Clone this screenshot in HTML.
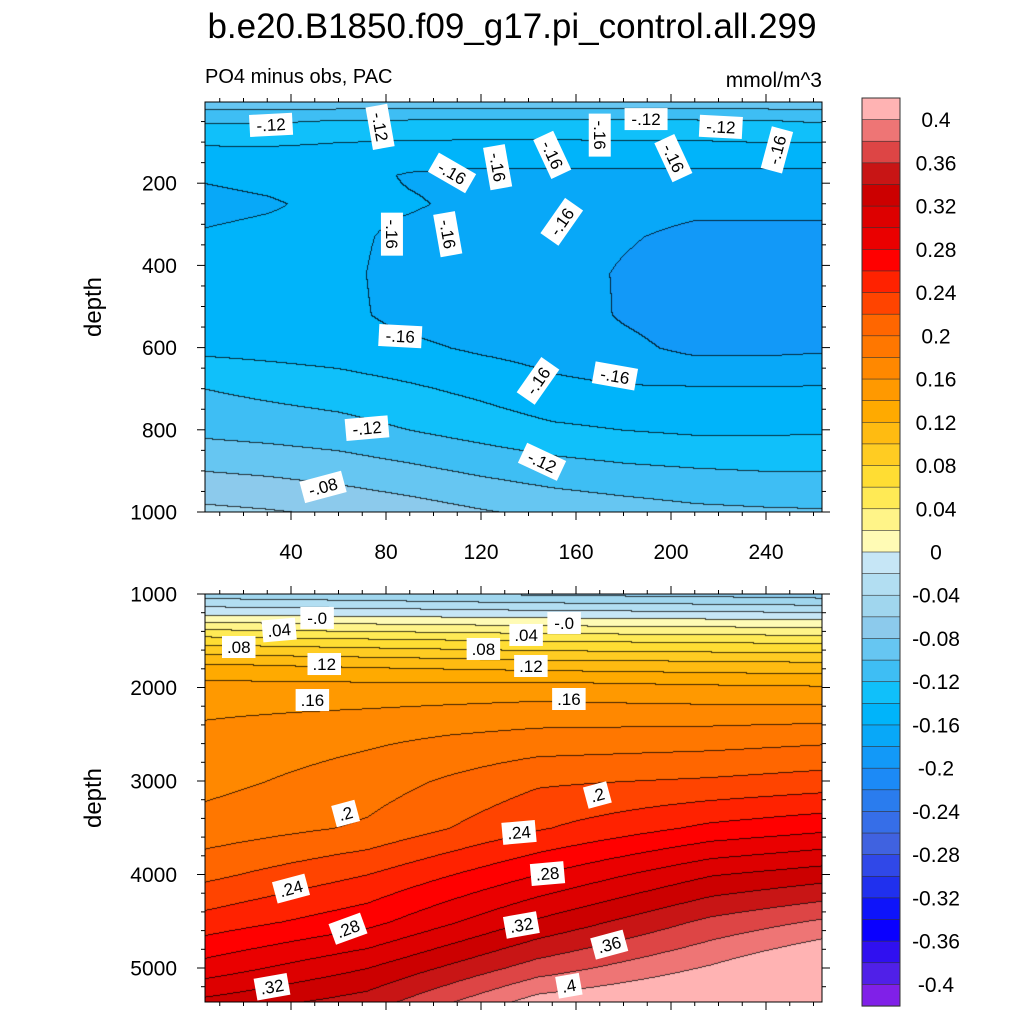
<!DOCTYPE html>
<html><head><meta charset="utf-8">
<style>
body{margin:0;background:#fff;width:1024px;height:1024px;overflow:hidden;font-family:"Liberation Sans",sans-serif;}
#root{position:relative;width:1024px;height:1024px;}
canvas{position:absolute;}
svg{position:absolute;left:0;top:0;}
</style></head>
<body>
<div id="root">
<canvas id="cTop" width="617" height="410" style="left:205px;top:102px"></canvas>
<canvas id="cBot" width="617" height="408" style="left:205px;top:594px"></canvas>
<svg id="ov" width="1024" height="1024"></svg>
</div>
<script>
// ---- data ----
const colors = ["#FFB3B3","#EE7575","#DD4545","#C81515","#CC0000","#DD0000","#EA0000","#FF0000","#FF2200","#FF4400","#FF6600","#FF7700","#FF8800","#FF9900","#FFAA00","#FFBB11","#FFCC22","#FFDD33","#FFEA55","#FFF488","#FFFBB5","#C6E6F6","#B2DEF2","#A0D6EE","#8CCAEC","#66C6F2","#3EBEF4","#10C0FA","#00B4FA","#08A8F8","#1299F8","#1C8AF6","#2A7CEE","#366EE8","#4062E0","#3048E8","#2030EE","#0E14FA","#0A00FF","#3010F0","#5020E8","#8020E8"];
const cbLabels = ["0.4","0.36","0.32","0.28","0.24","0.2","0.16","0.12","0.08","0.04","0","-0.04","-0.08","-0.12","-0.16","-0.2","-0.24","-0.28","-0.32","-0.36","-0.4"];

const topX = [4,30,60,90,120,150,180,210,240,264];
const topDepth = [0,40,100,180,250,330,420,520,600,700,800,900,1000];
const topVals = [
[-0.085,-0.085,-0.085,-0.085,-0.085,-0.085,-0.085,-0.085,-0.085,-0.085],
[-0.115,-0.115,-0.118,-0.118,-0.118,-0.118,-0.118,-0.118,-0.118,-0.115],
[-0.138,-0.138,-0.140,-0.142,-0.143,-0.143,-0.142,-0.142,-0.140,-0.140],
[-0.158,-0.155,-0.152,-0.162,-0.165,-0.165,-0.165,-0.165,-0.165,-0.165],
[-0.165,-0.162,-0.155,-0.158,-0.165,-0.168,-0.172,-0.175,-0.175,-0.175],
[-0.158,-0.155,-0.155,-0.165,-0.170,-0.172,-0.178,-0.185,-0.185,-0.185],
[-0.152,-0.153,-0.155,-0.168,-0.172,-0.172,-0.182,-0.190,-0.190,-0.190],
[-0.152,-0.153,-0.155,-0.166,-0.170,-0.170,-0.182,-0.190,-0.190,-0.190],
[-0.145,-0.147,-0.150,-0.156,-0.163,-0.168,-0.175,-0.185,-0.185,-0.183],
[-0.120,-0.125,-0.130,-0.137,-0.145,-0.155,-0.158,-0.158,-0.158,-0.158],
[-0.105,-0.108,-0.112,-0.120,-0.128,-0.136,-0.140,-0.143,-0.143,-0.142],
[-0.080,-0.083,-0.088,-0.095,-0.103,-0.110,-0.115,-0.118,-0.120,-0.120],
[-0.055,-0.058,-0.063,-0.070,-0.078,-0.085,-0.090,-0.095,-0.097,-0.098]];

const botX = [4,72,144,217,264];
const botDepth = [1000,1250,1500,1750,2000,2500,3000,3500,4000,4500,5000,5365];
const botVals = [
[-0.050,-0.055,-0.062,-0.066,-0.070],
[0.007,0.004,0.000,-0.003,-0.005],
[0.072,0.066,0.060,0.057,0.055],
[0.121,0.116,0.110,0.107,0.105],
[0.149,0.148,0.150,0.145,0.143],
[0.165,0.175,0.185,0.188,0.192],
[0.174,0.190,0.217,0.223,0.229],
[0.188,0.203,0.238,0.265,0.275],
[0.215,0.240,0.280,0.319,0.331],
[0.248,0.273,0.323,0.365,0.383],
[0.289,0.320,0.370,0.403,0.430],
[0.326,0.350,0.410,0.430,0.460]];

const topXTicks = [40,80,120,160,200,240];
const topYTicks = [200,400,600,800,1000];
const botYTicks = [1000,2000,3000,4000,5000];

const topLabels = [["-.12",31.6,58,-3],["-.12",77.5,63,80],["-.16",107.8,175,30],["-.16",127,161,80],["-.16",150,131,65],["-.16",170,83,90],["-.12",189.5,44,0],["-.16",201,139,65],["-.12",221,63,3],["-.16",244.6,119,-75],["-.16",82.5,324,90],["-.16",106,324,80],["-.16",154,294,-55],["-.16",86,572,3],["-.16",144,681,-55],["-.16",176.4,669,10],["-.12",72,796,-5],["-.12",145.7,878,25],["-.08",53.5,939,-15]];
const botLabels = [["-.0",51,1256,0],[".04",35,1385,-5],[".08",18,1567,0],[".12",54,1749,0],[".16",49,2134,0],["-.0",155,1310,0],[".04",139,1438,0],[".08",121,1588,0],[".12",141,1770,0],[".16",157,2123,0],[".2",169,3150,-15],[".2",63,3348,-15],[".24",136,3550,-5],[".24",40,4150,-15],[".28",148,3990,-5],[".28",64,4580,-20],[".32",137,4540,-10],[".36",174,4750,-15],[".32",32,5200,-10],[".4",157,5190,-10]];

// ---- axes ----
const topPx = x => 196 + x*2.375;
const topPy = d => 101 + d*0.411;
const botPx = topPx;
const botPy = d => 594 + (d-1000)*0.0935;
const invTopX = px => (px-196)/2.375;
const invTopD = py => (py-101)/0.411;
const invBotD = py => 1000 + (py-594)/0.0935;

function interp(xs, ds, vals, x, d){
  const fi=(arr,v)=>{ if(v<=arr[0]) return [0,0]; if(v>=arr[arr.length-1]) return [arr.length-2,1];
    for(let i=0;i<arr.length-1;i++){ if(v<=arr[i+1]) return [i,(v-arr[i])/(arr[i+1]-arr[i])]; } };
  const [i,tx]=fi(xs,x), [j,td]=fi(ds,d);
  const a=vals[j][i],b=vals[j][i+1],c=vals[j+1][i],e=vals[j+1][i+1];
  return (a*(1-tx)+b*tx)*(1-td)+(c*(1-tx)+e*tx)*td;
}
function levelIdx(v){ let k=Math.floor((0.42-v)/0.02+1e-9); return Math.max(0,Math.min(41,k)); }
function hex(h){return [parseInt(h.substr(1,2),16),parseInt(h.substr(3,2),16),parseInt(h.substr(5,2),16)];}
const rgb = colors.map(hex);

function drawField(id, left, top, xs, ds, vals, invD){
  const cv=document.getElementById(id), ctx=cv.getContext('2d');
  const W=cv.width,H=cv.height, img=ctx.createImageData(W,H);
  const L=new Int16Array(W*H);
  for(let y=0;y<H;y++){ const d=invD(top+y+0.5);
    for(let x=0;x<W;x++){ L[y*W+x]=levelIdx(interp(xs,ds,vals,invTopX(left+x+0.5),d)); } }
  for(let y=0;y<H;y++) for(let x=0;x<W;x++){
    const k=L[y*W+x]; let c=rgb[k]; const p=(y*W+x)*4;
    let edge=(x>0&&L[y*W+x-1]!==k)||(y>0&&L[(y-1)*W+x]!==k);
    if(edge){img.data[p]=c[0]*0.25;img.data[p+1]=c[1]*0.25;img.data[p+2]=c[2]*0.25;}
    else{img.data[p]=c[0];img.data[p+1]=c[1];img.data[p+2]=c[2];}
    img.data[p+3]=255; }
  ctx.putImageData(img,0,0);
}
drawField('cTop',205,102,topX,topDepth,topVals,invTopD);
drawField('cBot',205,594,botX,botDepth,botVals,invBotD);

// ---- svg overlay ----
const NS="http://www.w3.org/2000/svg", svg=document.getElementById('ov');
function el(tag,attrs,parent){const e=document.createElementNS(NS,tag);for(const k in attrs)e.setAttribute(k,attrs[k]);(parent||svg).appendChild(e);return e;}
function txt(s,x,y,size,anchor,extra){const t=el('text',Object.assign({x:x,y:y,'font-size':size,'text-anchor':anchor||'middle','font-family':'Liberation Sans, sans-serif',fill:'#000'},extra||{}));t.textContent=s;return t;}

let t;
t=txt("b.e20.B1850.f09_g17.pi_control.all.299",512,38,35);


t=txt("PO4 minus obs, PAC",205,83,20,'start');


t=txt("mmol/m^3",822,87,21,'end');



function panel(name,x0,y0,x1,y1,yTicks,pyF,minorStep,dMin,dMax,showXLabels){
  const g=el('g',{});
  
  
  el('rect',{x:x0,y:y0,width:x1-x0,height:y1-y0,fill:'none',stroke:'#000','stroke-width':1},g);
  for(let v=10;v<=260;v+=10){ const px=topPx(v); if(px<x0||px>x1) continue; const major=v%40===0; const len=major?8:4;
    el('line',{x1:px,y1:y1,x2:px,y2:y1+len,stroke:'#000','stroke-width':1},g);
    el('line',{x1:px,y1:y0,x2:px,y2:y0-len,stroke:'#000','stroke-width':1},g); }
  if(showXLabels){ topXTicks.forEach(v=>{ const tt=txt(String(v),topPx(v),559,21,'middle');
      g.appendChild(tt);}); }
  for(let d=dMin;d<=dMax;d+=minorStep){ const py=pyF(d); if(py<y0-0.5||py>y1+0.5) continue; const major=yTicks.indexOf(d)>=0; const len=major?8:4;
    el('line',{x1:x0,y1:py,x2:x0-len,y2:py,stroke:'#000','stroke-width':1},g);
    el('line',{x1:x1,y1:py,x2:x1+len,y2:py,stroke:'#000','stroke-width':1},g); }
  yTicks.forEach(d=>{ const tt=txt(String(d),177,pyF(d)+7.5,21,'end');
      g.appendChild(tt);});
  const yt=txt("depth",0,0,24,'middle',{transform:`translate(101,${(y0+y1)/2}) rotate(-90)`});
    g.appendChild(yt);
}
panel('top-panel',205,102,822,512,topYTicks,topPy,50,0,1000,true);
panel('bottom-panel',205,594,822,1002,botYTicks,botPy,200,1000,5400,false);

function labels(list,pxF,pyF,name){
  list.forEach(l=>{ const [s,x,d,rot]=l; const cx=pxF(x), cy=pyF(d);
    const g=el('g',{transform:`translate(${cx},${cy}) rotate(${rot})`});
    
    
    const w=s.length*9.5+5;
    el('rect',{x:-w/2,y:-11,width:w,height:22,fill:'#fff'},g);
    const tt=txt(s,0,6,17,'middle'); g.appendChild(tt); });
}
labels(topLabels,topPx,topPy,'top-contour-label');
labels(botLabels,botPx,botPy,'bottom-contour-label');

// colorbar
const cb=el('g',{});


const bh=908/42;
colors.forEach((c,i)=>{ const r=el('rect',{x:862,y:98+i*bh,width:38,height:bh+0.3,fill:c,stroke:'#333','stroke-width':0.6},cb);
    });
el('rect',{x:862,y:98,width:38,height:908,fill:'none',stroke:'#333','stroke-width':1},cb);
cbLabels.forEach((s,j)=>{ const i=1+2*j; const tt=txt(s,936,98+i*bh+7.5,21,'middle');
    cb.appendChild(tt); });
</script>
</body></html>
